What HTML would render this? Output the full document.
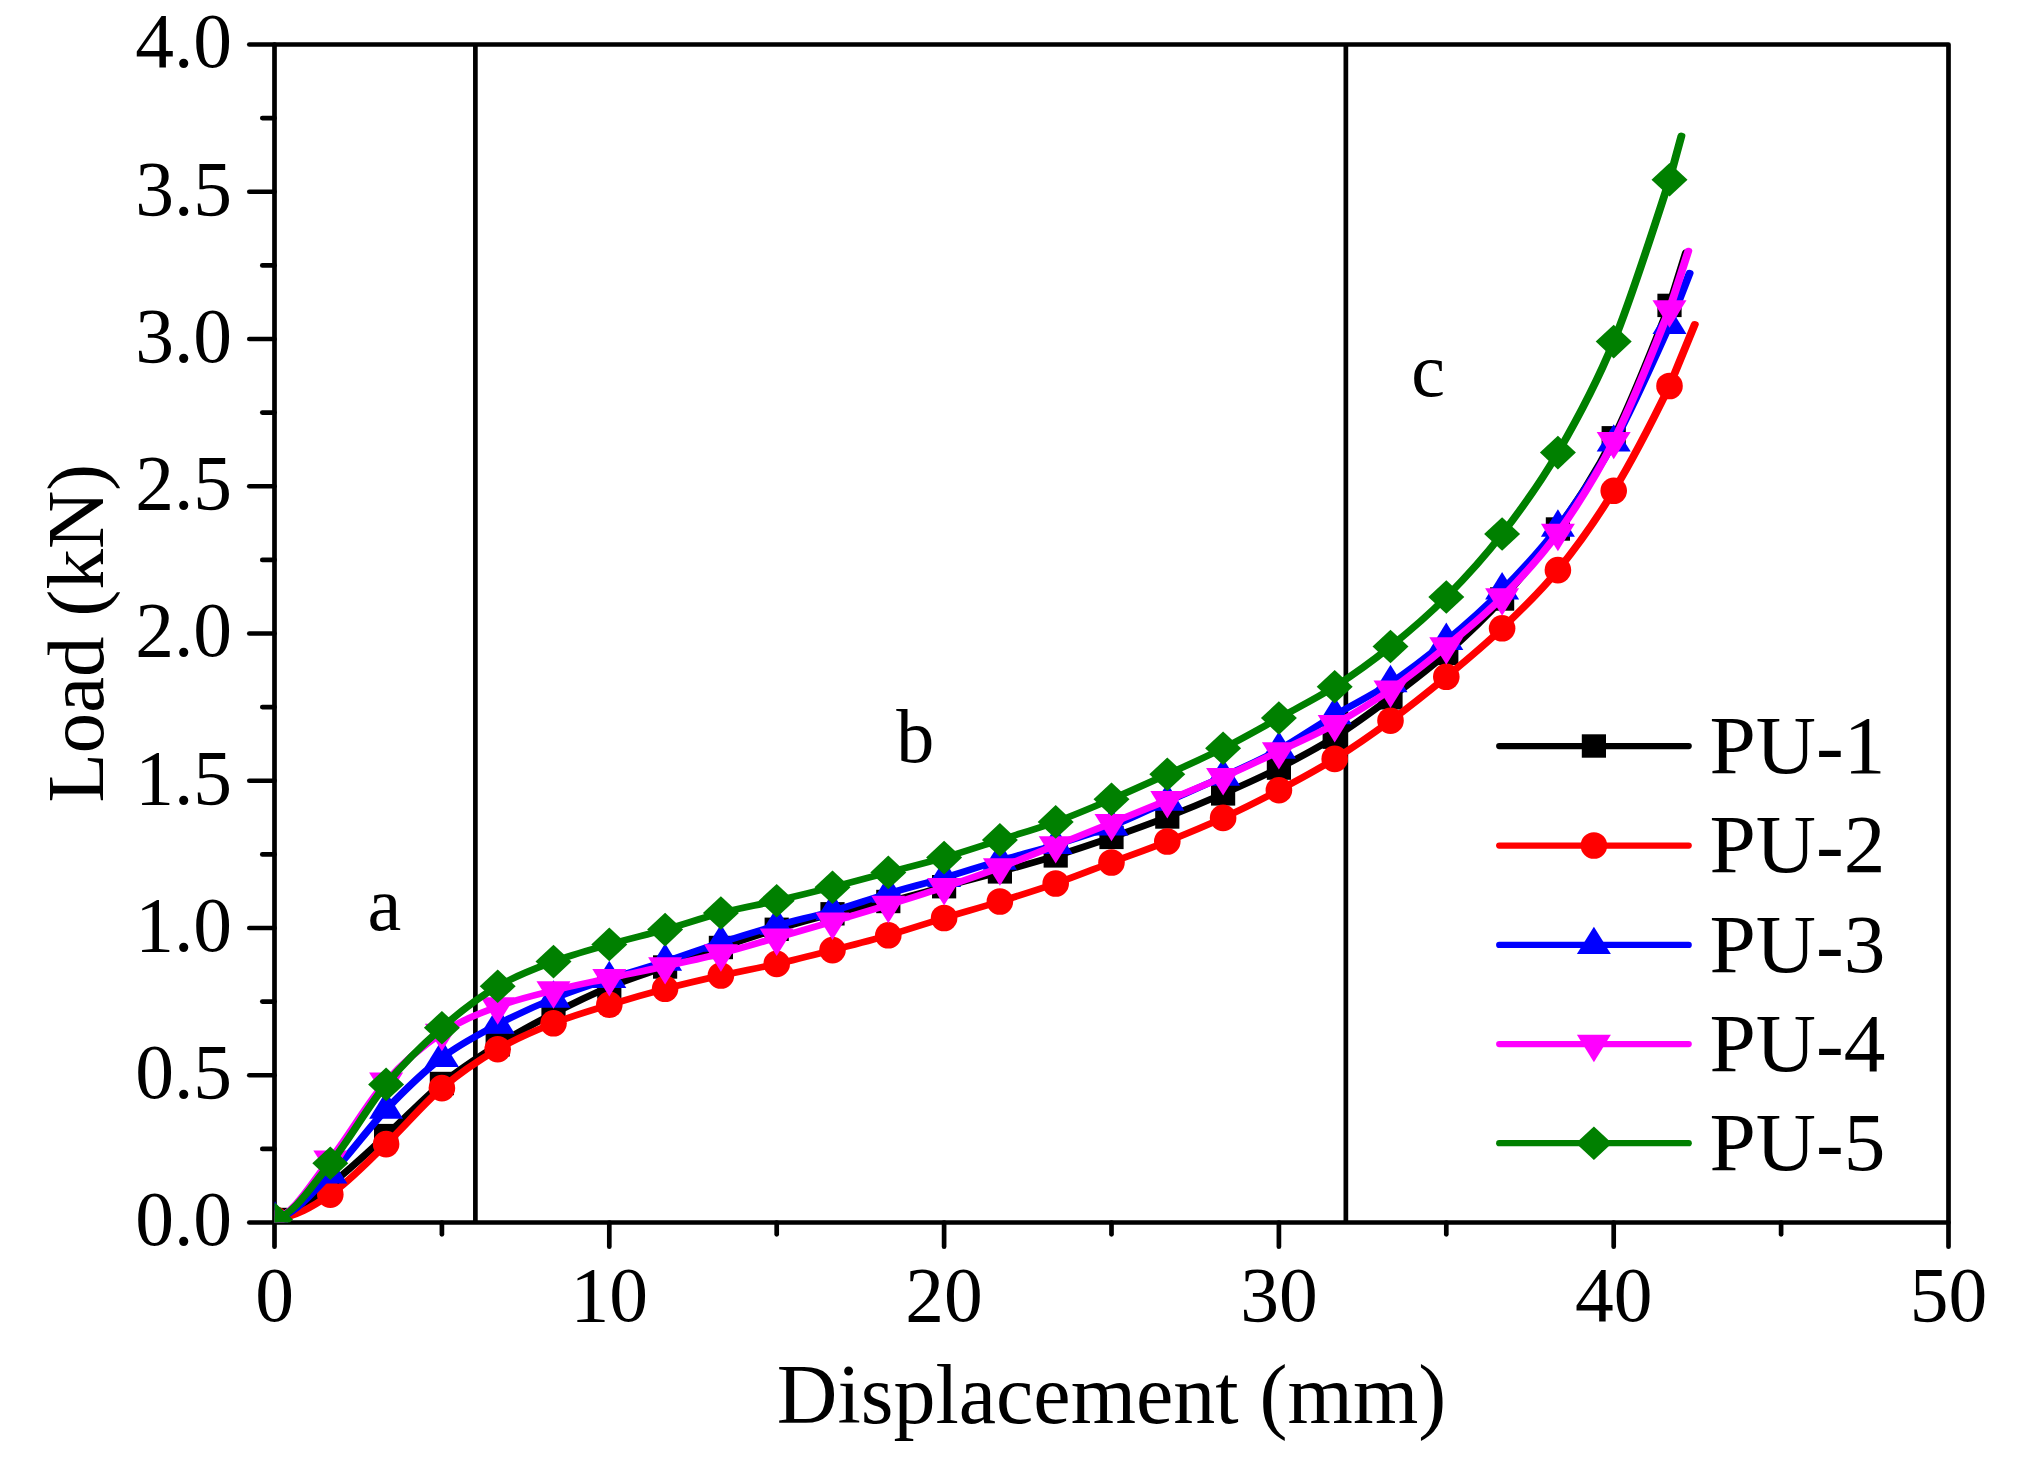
<!DOCTYPE html>
<html lang="en">
<head>
<meta charset="utf-8">
<title>Load - Displacement</title>
<style>
html,body{margin:0;padding:0;background:#fff;}
body{width:2028px;height:1467px;overflow:hidden;}
svg{display:block;}
text{font-family:"Liberation Serif","Times New Roman",Times,serif;fill:#000;}
.tk{font-size:77.5px;}
.ti{font-size:84px;}
.ty{font-size:80.8px;}
.lg{font-size:83.3px;}
.an{font-size:76px;}
</style>
</head>
<body>
<svg width="2028" height="1467" viewBox="0 0 2028 1467">
<rect x="0" y="0" width="2028" height="1467" fill="#ffffff"/>
<defs><clipPath id="plotclip"><rect x="274.5" y="44.5" width="1674.0" height="1178.0"/></clipPath></defs>

<g stroke="#000" stroke-width="4.7" stroke-linecap="round" fill="none">
<path d="M274.5,44.5 H1948.5 V1222.5 H274.5 Z" stroke-linejoin="round"/>
<line x1="274.5" y1="1222.50" x2="249.30" y2="1222.50"/>
<line x1="274.5" y1="1148.88" x2="262.30" y2="1148.88"/>
<line x1="274.5" y1="1075.25" x2="249.30" y2="1075.25"/>
<line x1="274.5" y1="1001.62" x2="262.30" y2="1001.62"/>
<line x1="274.5" y1="928.00" x2="249.30" y2="928.00"/>
<line x1="274.5" y1="854.38" x2="262.30" y2="854.38"/>
<line x1="274.5" y1="780.75" x2="249.30" y2="780.75"/>
<line x1="274.5" y1="707.12" x2="262.30" y2="707.12"/>
<line x1="274.5" y1="633.50" x2="249.30" y2="633.50"/>
<line x1="274.5" y1="559.88" x2="262.30" y2="559.88"/>
<line x1="274.5" y1="486.25" x2="249.30" y2="486.25"/>
<line x1="274.5" y1="412.62" x2="262.30" y2="412.62"/>
<line x1="274.5" y1="339.00" x2="249.30" y2="339.00"/>
<line x1="274.5" y1="265.38" x2="262.30" y2="265.38"/>
<line x1="274.5" y1="191.75" x2="249.30" y2="191.75"/>
<line x1="274.5" y1="118.12" x2="262.30" y2="118.12"/>
<line x1="274.5" y1="44.50" x2="249.30" y2="44.50"/>
<line x1="274.50" y1="1222.5" x2="274.50" y2="1246.70"/>
<line x1="441.90" y1="1222.5" x2="441.90" y2="1234.30"/>
<line x1="609.30" y1="1222.5" x2="609.30" y2="1246.70"/>
<line x1="776.70" y1="1222.5" x2="776.70" y2="1234.30"/>
<line x1="944.10" y1="1222.5" x2="944.10" y2="1246.70"/>
<line x1="1111.50" y1="1222.5" x2="1111.50" y2="1234.30"/>
<line x1="1278.90" y1="1222.5" x2="1278.90" y2="1246.70"/>
<line x1="1446.30" y1="1222.5" x2="1446.30" y2="1234.30"/>
<line x1="1613.70" y1="1222.5" x2="1613.70" y2="1246.70"/>
<line x1="1781.10" y1="1222.5" x2="1781.10" y2="1234.30"/>
<line x1="1948.50" y1="1222.5" x2="1948.50" y2="1246.70"/>
<line x1="475.38" y1="44.5" x2="475.38" y2="1222.5" stroke-linecap="butt"/>
<line x1="1345.86" y1="44.5" x2="1345.86" y2="1222.5" stroke-linecap="butt"/>
</g>
<g class="tk" text-anchor="end">
<text x="232" y="1245.30">0.0</text>
<text x="232" y="1098.05">0.5</text>
<text x="232" y="950.80">1.0</text>
<text x="232" y="803.55">1.5</text>
<text x="232" y="656.30">2.0</text>
<text x="232" y="509.05">2.5</text>
<text x="232" y="361.80">3.0</text>
<text x="232" y="214.55">3.5</text>
<text x="232" y="67.30">4.0</text>
</g>
<g class="tk" text-anchor="middle">
<text x="274.50" y="1320.5">0</text>
<text x="609.30" y="1320.5">10</text>
<text x="944.10" y="1320.5">20</text>
<text x="1278.90" y="1320.5">30</text>
<text x="1613.70" y="1320.5">40</text>
<text x="1948.50" y="1320.5">50</text>
</g>
<text class="ti" text-anchor="middle" x="1111.5" y="1422.6">Displacement (mm)</text>
<text class="ty" text-anchor="middle" transform="translate(103.2,633.2) rotate(-90)">Load (kN)</text>
<text class="an" x="367.6" y="930">a</text>
<text class="an" x="896.2" y="762">b</text>
<text class="an" x="1411.2" y="396">c</text>
<g clip-path="url(#plotclip)">
<path transform="scale(1.2 1)" d="M229.17,1219.50 C245.76,1216.00 259.82,1198.48 275.25,1184.50 C290.68,1170.52 306.25,1152.43 321.75,1135.60 C337.25,1118.77 352.75,1098.63 368.25,1083.50 C383.75,1068.37 399.25,1056.47 414.75,1044.80 C430.25,1033.13 445.75,1023.13 461.25,1013.50 C476.75,1003.87 492.25,994.75 507.75,987.00 C523.25,979.25 538.75,973.58 554.25,967.00 C569.75,960.42 585.25,953.78 600.75,947.50 C616.25,941.22 631.75,934.92 647.25,929.30 C662.75,923.68 678.25,918.43 693.75,913.80 C709.25,909.17 724.75,906.02 740.25,901.50 C755.75,896.98 771.25,891.63 786.75,886.70 C802.25,881.77 817.75,877.03 833.25,871.90 C848.75,866.77 864.25,861.65 879.75,855.90 C895.25,850.15 910.75,843.88 926.25,837.40 C941.75,830.92 957.25,824.25 972.75,817.00 C988.25,809.75 1003.75,802.05 1019.25,793.90 C1034.75,785.75 1050.25,777.55 1065.75,768.10 C1081.25,758.65 1096.75,748.92 1112.25,737.20 C1127.75,725.48 1143.25,711.77 1158.75,697.80 C1174.25,683.83 1189.75,669.87 1205.25,653.40 C1220.75,636.93 1236.25,619.73 1251.75,599.00 C1267.25,578.27 1282.75,555.87 1298.25,529.00 C1313.75,502.13 1329.25,475.07 1344.75,437.80 C1360.25,400.53 1381.21,336.28 1391.25,305.40 C1395.83,287.77 1402.71,261.32 1405.00,252.50" fill="none" stroke="#000000" stroke-width="6.6" stroke-linecap="round" stroke-linejoin="round"/>
<rect x="262.90" y="1207.80" width="24.2" height="23.4" fill="#000000"/>
<rect x="318.20" y="1172.80" width="24.2" height="23.4" fill="#000000"/>
<rect x="374.00" y="1123.90" width="24.2" height="23.4" fill="#000000"/>
<rect x="429.80" y="1071.80" width="24.2" height="23.4" fill="#000000"/>
<rect x="485.60" y="1033.10" width="24.2" height="23.4" fill="#000000"/>
<rect x="541.40" y="1001.80" width="24.2" height="23.4" fill="#000000"/>
<rect x="597.20" y="975.30" width="24.2" height="23.4" fill="#000000"/>
<rect x="653.00" y="955.30" width="24.2" height="23.4" fill="#000000"/>
<rect x="708.80" y="935.80" width="24.2" height="23.4" fill="#000000"/>
<rect x="764.60" y="917.60" width="24.2" height="23.4" fill="#000000"/>
<rect x="820.40" y="902.10" width="24.2" height="23.4" fill="#000000"/>
<rect x="876.20" y="889.80" width="24.2" height="23.4" fill="#000000"/>
<rect x="932.00" y="875.00" width="24.2" height="23.4" fill="#000000"/>
<rect x="987.80" y="860.20" width="24.2" height="23.4" fill="#000000"/>
<rect x="1043.60" y="844.20" width="24.2" height="23.4" fill="#000000"/>
<rect x="1099.40" y="825.70" width="24.2" height="23.4" fill="#000000"/>
<rect x="1155.20" y="805.30" width="24.2" height="23.4" fill="#000000"/>
<rect x="1211.00" y="782.20" width="24.2" height="23.4" fill="#000000"/>
<rect x="1266.80" y="756.40" width="24.2" height="23.4" fill="#000000"/>
<rect x="1322.60" y="725.50" width="24.2" height="23.4" fill="#000000"/>
<rect x="1378.40" y="686.10" width="24.2" height="23.4" fill="#000000"/>
<rect x="1434.20" y="641.70" width="24.2" height="23.4" fill="#000000"/>
<rect x="1490.00" y="587.30" width="24.2" height="23.4" fill="#000000"/>
<rect x="1545.80" y="517.30" width="24.2" height="23.4" fill="#000000"/>
<rect x="1601.60" y="426.10" width="24.2" height="23.4" fill="#000000"/>
<rect x="1657.40" y="293.70" width="24.2" height="23.4" fill="#000000"/>
<path transform="scale(1.2 1)" d="M229.17,1219.50 C245.76,1217.01 259.82,1207.17 275.25,1194.60 C290.68,1182.03 306.25,1161.85 321.75,1144.10 C337.25,1126.35 352.75,1103.92 368.25,1088.10 C383.75,1072.28 399.25,1060.00 414.75,1049.20 C430.25,1038.40 445.75,1030.70 461.25,1023.30 C476.75,1015.90 492.25,1010.55 507.75,1004.80 C523.25,999.05 538.75,993.68 554.25,988.80 C569.75,983.92 585.25,979.65 600.75,975.50 C616.25,971.35 631.75,968.13 647.25,963.90 C662.75,959.67 678.25,954.87 693.75,950.10 C709.25,945.33 724.75,940.65 740.25,935.30 C755.75,929.95 771.25,923.63 786.75,918.00 C802.25,912.37 817.75,907.25 833.25,901.50 C848.75,895.75 864.25,890.00 879.75,883.50 C895.25,877.00 910.75,869.50 926.25,862.50 C941.75,855.50 957.25,848.93 972.75,841.50 C988.25,834.07 1003.75,826.45 1019.25,817.90 C1034.75,809.35 1050.25,800.03 1065.75,790.20 C1081.25,780.37 1096.75,770.48 1112.25,758.90 C1127.75,747.32 1143.25,734.38 1158.75,720.70 C1174.25,707.02 1189.75,692.20 1205.25,676.80 C1220.75,661.40 1236.25,646.08 1251.75,628.30 C1267.25,610.52 1282.75,593.02 1298.25,570.10 C1313.75,547.18 1329.25,521.48 1344.75,490.80 C1360.25,460.12 1379.99,413.73 1391.25,386.00 C1398.28,365.47 1408.82,334.67 1412.33,324.40" fill="none" stroke="#ff0000" stroke-width="6.6" stroke-linecap="round" stroke-linejoin="round"/>
<circle cx="275.00" cy="1219.50" r="13.3" fill="#ff0000"/>
<circle cx="330.30" cy="1194.60" r="13.3" fill="#ff0000"/>
<circle cx="386.10" cy="1144.10" r="13.3" fill="#ff0000"/>
<circle cx="441.90" cy="1088.10" r="13.3" fill="#ff0000"/>
<circle cx="497.70" cy="1049.20" r="13.3" fill="#ff0000"/>
<circle cx="553.50" cy="1023.30" r="13.3" fill="#ff0000"/>
<circle cx="609.30" cy="1004.80" r="13.3" fill="#ff0000"/>
<circle cx="665.10" cy="988.80" r="13.3" fill="#ff0000"/>
<circle cx="720.90" cy="975.50" r="13.3" fill="#ff0000"/>
<circle cx="776.70" cy="963.90" r="13.3" fill="#ff0000"/>
<circle cx="832.50" cy="950.10" r="13.3" fill="#ff0000"/>
<circle cx="888.30" cy="935.30" r="13.3" fill="#ff0000"/>
<circle cx="944.10" cy="918.00" r="13.3" fill="#ff0000"/>
<circle cx="999.90" cy="901.50" r="13.3" fill="#ff0000"/>
<circle cx="1055.70" cy="883.50" r="13.3" fill="#ff0000"/>
<circle cx="1111.50" cy="862.50" r="13.3" fill="#ff0000"/>
<circle cx="1167.30" cy="841.50" r="13.3" fill="#ff0000"/>
<circle cx="1223.10" cy="817.90" r="13.3" fill="#ff0000"/>
<circle cx="1278.90" cy="790.20" r="13.3" fill="#ff0000"/>
<circle cx="1334.70" cy="758.90" r="13.3" fill="#ff0000"/>
<circle cx="1390.50" cy="720.70" r="13.3" fill="#ff0000"/>
<circle cx="1446.30" cy="676.80" r="13.3" fill="#ff0000"/>
<circle cx="1502.10" cy="628.30" r="13.3" fill="#ff0000"/>
<circle cx="1557.90" cy="570.10" r="13.3" fill="#ff0000"/>
<circle cx="1613.70" cy="490.80" r="13.3" fill="#ff0000"/>
<circle cx="1669.50" cy="386.00" r="13.3" fill="#ff0000"/>
<path transform="scale(1.2 1)" d="M229.17,1219.50 C245.76,1214.99 259.82,1192.72 275.25,1174.40 C290.68,1156.08 306.25,1129.03 321.75,1109.60 C337.25,1090.17 352.75,1071.98 368.25,1057.80 C383.75,1043.62 399.25,1034.37 414.75,1024.50 C430.25,1014.63 445.75,1006.20 461.25,998.60 C476.75,991.00 492.25,985.07 507.75,978.90 C523.25,972.73 538.75,967.67 554.25,961.60 C569.75,955.53 585.25,948.52 600.75,942.50 C616.25,936.48 631.75,930.75 647.25,925.50 C662.75,920.25 678.25,916.33 693.75,911.00 C709.25,905.67 724.75,899.03 740.25,893.50 C755.75,887.97 771.25,883.30 786.75,877.80 C802.25,872.30 817.75,866.00 833.25,860.50 C848.75,855.00 864.25,850.50 879.75,844.80 C895.25,839.10 910.75,833.52 926.25,826.30 C941.75,819.08 957.25,809.77 972.75,801.50 C988.25,793.23 1003.75,785.35 1019.25,776.70 C1034.75,768.05 1050.25,759.87 1065.75,749.60 C1081.25,739.33 1096.75,726.20 1112.25,715.10 C1127.75,704.00 1143.25,695.38 1158.75,683.00 C1174.25,670.62 1189.75,656.25 1205.25,640.80 C1220.75,625.35 1236.25,609.18 1251.75,590.30 C1267.25,571.42 1282.75,552.15 1298.25,527.50 C1313.75,502.85 1329.25,476.18 1344.75,442.40 C1360.25,408.62 1380.71,353.00 1391.25,324.80 C1396.83,307.60 1405.21,281.80 1408.00,273.20" fill="none" stroke="#0000ff" stroke-width="6.6" stroke-linecap="round" stroke-linejoin="round"/>
<polygon points="275.00,1201.23 292.00,1228.63 258.00,1228.63" fill="#0000ff"/>
<polygon points="330.30,1156.13 347.30,1183.53 313.30,1183.53" fill="#0000ff"/>
<polygon points="386.10,1091.33 403.10,1118.73 369.10,1118.73" fill="#0000ff"/>
<polygon points="441.90,1039.53 458.90,1066.93 424.90,1066.93" fill="#0000ff"/>
<polygon points="497.70,1006.23 514.70,1033.63 480.70,1033.63" fill="#0000ff"/>
<polygon points="553.50,980.33 570.50,1007.73 536.50,1007.73" fill="#0000ff"/>
<polygon points="609.30,960.63 626.30,988.03 592.30,988.03" fill="#0000ff"/>
<polygon points="665.10,943.33 682.10,970.73 648.10,970.73" fill="#0000ff"/>
<polygon points="720.90,924.23 737.90,951.63 703.90,951.63" fill="#0000ff"/>
<polygon points="776.70,907.23 793.70,934.63 759.70,934.63" fill="#0000ff"/>
<polygon points="832.50,892.73 849.50,920.13 815.50,920.13" fill="#0000ff"/>
<polygon points="888.30,875.23 905.30,902.63 871.30,902.63" fill="#0000ff"/>
<polygon points="944.10,859.53 961.10,886.93 927.10,886.93" fill="#0000ff"/>
<polygon points="999.90,842.23 1016.90,869.63 982.90,869.63" fill="#0000ff"/>
<polygon points="1055.70,826.53 1072.70,853.93 1038.70,853.93" fill="#0000ff"/>
<polygon points="1111.50,808.03 1128.50,835.43 1094.50,835.43" fill="#0000ff"/>
<polygon points="1167.30,783.23 1184.30,810.63 1150.30,810.63" fill="#0000ff"/>
<polygon points="1223.10,758.43 1240.10,785.83 1206.10,785.83" fill="#0000ff"/>
<polygon points="1278.90,731.33 1295.90,758.73 1261.90,758.73" fill="#0000ff"/>
<polygon points="1334.70,696.83 1351.70,724.23 1317.70,724.23" fill="#0000ff"/>
<polygon points="1390.50,664.73 1407.50,692.13 1373.50,692.13" fill="#0000ff"/>
<polygon points="1446.30,622.53 1463.30,649.93 1429.30,649.93" fill="#0000ff"/>
<polygon points="1502.10,572.03 1519.10,599.43 1485.10,599.43" fill="#0000ff"/>
<polygon points="1557.90,509.23 1574.90,536.63 1540.90,536.63" fill="#0000ff"/>
<polygon points="1613.70,424.13 1630.70,451.53 1596.70,451.53" fill="#0000ff"/>
<polygon points="1669.50,306.53 1686.50,333.93 1652.50,333.93" fill="#0000ff"/>
<path transform="scale(1.2 1)" d="M229.17,1219.50 C245.76,1213.51 259.82,1182.57 275.25,1159.60 C290.68,1136.63 306.25,1102.80 321.75,1081.70 C337.25,1060.60 352.75,1045.53 368.25,1033.00 C383.75,1020.47 399.25,1013.58 414.75,1006.50 C430.25,999.42 445.75,995.22 461.25,990.50 C476.75,985.78 492.25,982.23 507.75,978.20 C523.25,974.17 538.75,970.42 554.25,966.30 C569.75,962.18 585.25,958.27 600.75,953.50 C616.25,948.73 631.75,943.00 647.25,937.70 C662.75,932.40 678.25,927.17 693.75,921.70 C709.25,916.23 724.75,910.65 740.25,904.90 C755.75,899.15 771.25,893.43 786.75,887.20 C802.25,880.97 817.75,874.48 833.25,867.50 C848.75,860.52 864.25,852.70 879.75,845.30 C895.25,837.90 910.75,830.62 926.25,823.10 C941.75,815.58 957.25,807.85 972.75,800.20 C988.25,792.55 1003.75,785.35 1019.25,777.20 C1034.75,769.05 1050.25,760.13 1065.75,751.30 C1081.25,742.47 1096.75,734.47 1112.25,724.20 C1127.75,713.93 1143.25,702.65 1158.75,689.70 C1174.25,676.75 1189.75,661.88 1205.25,646.50 C1220.75,631.12 1236.25,616.32 1251.75,597.40 C1267.25,578.48 1282.75,559.05 1298.25,533.00 C1313.75,506.95 1329.25,478.37 1344.75,441.10 C1360.25,403.83 1380.89,341.08 1391.25,309.40 C1396.47,289.93 1404.31,260.73 1406.92,251.00" fill="none" stroke="#ff00ff" stroke-width="6.6" stroke-linecap="round" stroke-linejoin="round"/>
<polygon points="258.00,1210.37 292.00,1210.37 275.00,1237.77" fill="#ff00ff"/>
<polygon points="313.30,1150.47 347.30,1150.47 330.30,1177.87" fill="#ff00ff"/>
<polygon points="369.10,1072.57 403.10,1072.57 386.10,1099.97" fill="#ff00ff"/>
<polygon points="424.90,1023.87 458.90,1023.87 441.90,1051.27" fill="#ff00ff"/>
<polygon points="480.70,997.37 514.70,997.37 497.70,1024.77" fill="#ff00ff"/>
<polygon points="536.50,981.37 570.50,981.37 553.50,1008.77" fill="#ff00ff"/>
<polygon points="592.30,969.07 626.30,969.07 609.30,996.47" fill="#ff00ff"/>
<polygon points="648.10,957.17 682.10,957.17 665.10,984.57" fill="#ff00ff"/>
<polygon points="703.90,944.37 737.90,944.37 720.90,971.77" fill="#ff00ff"/>
<polygon points="759.70,928.57 793.70,928.57 776.70,955.97" fill="#ff00ff"/>
<polygon points="815.50,912.57 849.50,912.57 832.50,939.97" fill="#ff00ff"/>
<polygon points="871.30,895.77 905.30,895.77 888.30,923.17" fill="#ff00ff"/>
<polygon points="927.10,878.07 961.10,878.07 944.10,905.47" fill="#ff00ff"/>
<polygon points="982.90,858.37 1016.90,858.37 999.90,885.77" fill="#ff00ff"/>
<polygon points="1038.70,836.17 1072.70,836.17 1055.70,863.57" fill="#ff00ff"/>
<polygon points="1094.50,813.97 1128.50,813.97 1111.50,841.37" fill="#ff00ff"/>
<polygon points="1150.30,791.07 1184.30,791.07 1167.30,818.47" fill="#ff00ff"/>
<polygon points="1206.10,768.07 1240.10,768.07 1223.10,795.47" fill="#ff00ff"/>
<polygon points="1261.90,742.17 1295.90,742.17 1278.90,769.57" fill="#ff00ff"/>
<polygon points="1317.70,715.07 1351.70,715.07 1334.70,742.47" fill="#ff00ff"/>
<polygon points="1373.50,680.57 1407.50,680.57 1390.50,707.97" fill="#ff00ff"/>
<polygon points="1429.30,637.37 1463.30,637.37 1446.30,664.77" fill="#ff00ff"/>
<polygon points="1485.10,588.27 1519.10,588.27 1502.10,615.67" fill="#ff00ff"/>
<polygon points="1540.90,523.87 1574.90,523.87 1557.90,551.27" fill="#ff00ff"/>
<polygon points="1596.70,431.97 1630.70,431.97 1613.70,459.37" fill="#ff00ff"/>
<polygon points="1652.50,300.27 1686.50,300.27 1669.50,327.67" fill="#ff00ff"/>
<path transform="scale(1.2 1)" d="M229.17,1219.50 C245.76,1213.88 259.82,1185.82 275.25,1163.30 C290.68,1140.78 306.25,1107.00 321.75,1084.40 C337.25,1061.80 352.75,1044.05 368.25,1027.70 C383.75,1011.35 399.25,997.32 414.75,986.30 C430.25,975.28 445.75,968.58 461.25,961.60 C476.75,954.62 492.25,949.73 507.75,944.40 C523.25,939.07 538.75,934.83 554.25,929.60 C569.75,924.37 585.25,917.82 600.75,913.00 C616.25,908.18 631.75,905.00 647.25,900.70 C662.75,896.40 678.25,891.92 693.75,887.20 C709.25,882.48 724.75,877.33 740.25,872.40 C755.75,867.47 771.25,863.02 786.75,857.60 C802.25,852.18 817.75,845.85 833.25,839.90 C848.75,833.95 864.25,828.68 879.75,821.90 C895.25,815.12 910.75,807.13 926.25,799.20 C941.75,791.27 957.25,782.78 972.75,774.30 C988.25,765.82 1003.75,757.68 1019.25,748.30 C1034.75,738.92 1050.25,728.27 1065.75,718.00 C1081.25,707.73 1096.75,698.62 1112.25,686.70 C1127.75,674.78 1143.25,661.45 1158.75,646.50 C1174.25,631.55 1189.75,615.75 1205.25,597.00 C1220.75,578.25 1236.25,558.07 1251.75,534.00 C1267.25,509.93 1282.75,484.67 1298.25,452.60 C1313.75,420.53 1329.25,387.07 1344.75,341.60 C1360.25,296.13 1381.85,214.08 1391.25,179.80 C1394.56,165.17 1399.51,143.22 1401.17,135.90" fill="none" stroke="#008000" stroke-width="6.6" stroke-linecap="round" stroke-linejoin="round"/>
<polygon points="275.00,1202.70 293.00,1219.50 275.00,1236.30 257.00,1219.50" fill="#008000"/>
<polygon points="330.30,1146.50 348.30,1163.30 330.30,1180.10 312.30,1163.30" fill="#008000"/>
<polygon points="386.10,1067.60 404.10,1084.40 386.10,1101.20 368.10,1084.40" fill="#008000"/>
<polygon points="441.90,1010.90 459.90,1027.70 441.90,1044.50 423.90,1027.70" fill="#008000"/>
<polygon points="497.70,969.50 515.70,986.30 497.70,1003.10 479.70,986.30" fill="#008000"/>
<polygon points="553.50,944.80 571.50,961.60 553.50,978.40 535.50,961.60" fill="#008000"/>
<polygon points="609.30,927.60 627.30,944.40 609.30,961.20 591.30,944.40" fill="#008000"/>
<polygon points="665.10,912.80 683.10,929.60 665.10,946.40 647.10,929.60" fill="#008000"/>
<polygon points="720.90,896.20 738.90,913.00 720.90,929.80 702.90,913.00" fill="#008000"/>
<polygon points="776.70,883.90 794.70,900.70 776.70,917.50 758.70,900.70" fill="#008000"/>
<polygon points="832.50,870.40 850.50,887.20 832.50,904.00 814.50,887.20" fill="#008000"/>
<polygon points="888.30,855.60 906.30,872.40 888.30,889.20 870.30,872.40" fill="#008000"/>
<polygon points="944.10,840.80 962.10,857.60 944.10,874.40 926.10,857.60" fill="#008000"/>
<polygon points="999.90,823.10 1017.90,839.90 999.90,856.70 981.90,839.90" fill="#008000"/>
<polygon points="1055.70,805.10 1073.70,821.90 1055.70,838.70 1037.70,821.90" fill="#008000"/>
<polygon points="1111.50,782.40 1129.50,799.20 1111.50,816.00 1093.50,799.20" fill="#008000"/>
<polygon points="1167.30,757.50 1185.30,774.30 1167.30,791.10 1149.30,774.30" fill="#008000"/>
<polygon points="1223.10,731.50 1241.10,748.30 1223.10,765.10 1205.10,748.30" fill="#008000"/>
<polygon points="1278.90,701.20 1296.90,718.00 1278.90,734.80 1260.90,718.00" fill="#008000"/>
<polygon points="1334.70,669.90 1352.70,686.70 1334.70,703.50 1316.70,686.70" fill="#008000"/>
<polygon points="1390.50,629.70 1408.50,646.50 1390.50,663.30 1372.50,646.50" fill="#008000"/>
<polygon points="1446.30,580.20 1464.30,597.00 1446.30,613.80 1428.30,597.00" fill="#008000"/>
<polygon points="1502.10,517.20 1520.10,534.00 1502.10,550.80 1484.10,534.00" fill="#008000"/>
<polygon points="1557.90,435.80 1575.90,452.60 1557.90,469.40 1539.90,452.60" fill="#008000"/>
<polygon points="1613.70,324.80 1631.70,341.60 1613.70,358.40 1595.70,341.60" fill="#008000"/>
<polygon points="1669.50,163.00 1687.50,179.80 1669.50,196.60 1651.50,179.80" fill="#008000"/>
</g>
<line x1="1499.2" y1="746.0" x2="1688.7" y2="746.0" stroke="#000000" stroke-width="6.25" stroke-linecap="round"/>
<rect x="1581.80" y="734.30" width="24.2" height="23.4" fill="#000000"/>
<text class="lg" x="1709.5" y="772.80">PU-1</text>
<line x1="1499.2" y1="845.5" x2="1688.7" y2="845.5" stroke="#ff0000" stroke-width="6.25" stroke-linecap="round"/>
<circle cx="1593.90" cy="845.50" r="13.3" fill="#ff0000"/>
<text class="lg" x="1709.5" y="872.30">PU-2</text>
<line x1="1499.2" y1="944.9" x2="1688.7" y2="944.9" stroke="#0000ff" stroke-width="6.25" stroke-linecap="round"/>
<polygon points="1593.90,926.63 1610.90,954.03 1576.90,954.03" fill="#0000ff"/>
<text class="lg" x="1709.5" y="971.70">PU-3</text>
<line x1="1499.2" y1="1044.0" x2="1688.7" y2="1044.0" stroke="#ff00ff" stroke-width="6.25" stroke-linecap="round"/>
<polygon points="1576.90,1034.87 1610.90,1034.87 1593.90,1062.27" fill="#ff00ff"/>
<text class="lg" x="1709.5" y="1070.80">PU-4</text>
<line x1="1499.2" y1="1143.2" x2="1688.7" y2="1143.2" stroke="#008000" stroke-width="6.25" stroke-linecap="round"/>
<polygon points="1593.90,1126.40 1611.90,1143.20 1593.90,1160.00 1575.90,1143.20" fill="#008000"/>
<text class="lg" x="1709.5" y="1170.00">PU-5</text>
</svg>
</body>
</html>
